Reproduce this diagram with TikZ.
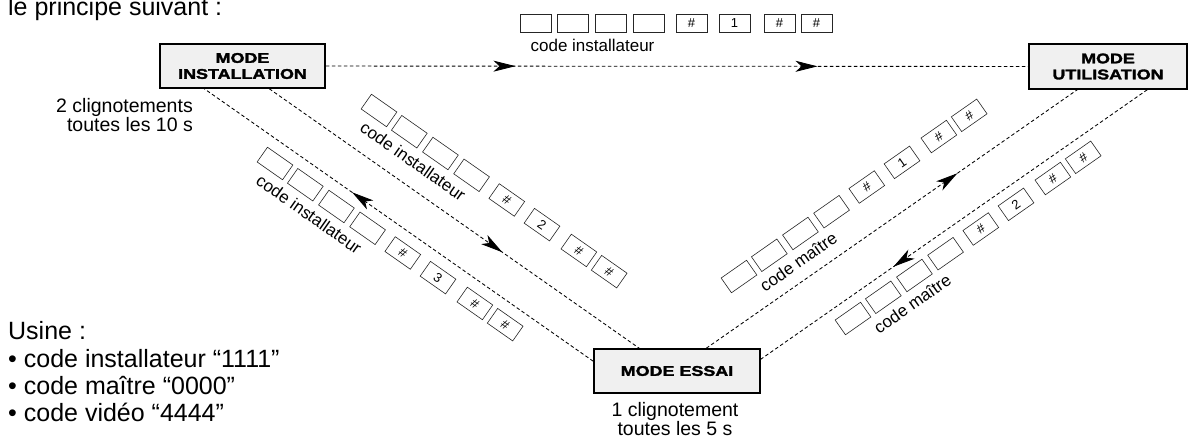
\documentclass[tikz,border=0pt]{standalone}
\usepackage{fontspec}
\setmainfont{Liberation Sans}
\newfontfamily\heavyfont{Liberation Sans}[FakeStretch=1.28, FakeBold=2.2]
\usetikzlibrary{arrows.meta,decorations.markings,calc}

\tikzset{
  modebox/.style={draw=black, line width=1.5pt, fill=gray!12, inner sep=0pt,
    align=center, font=\heavyfont\bfseries\fontsize{14}{16}\selectfont},
  flow/.style={line width=0.85pt, dash pattern=on 3.5pt off 2.5pt},
  arrowat/.style={postaction={decorate}, decoration={markings,
    mark=at position #1 with {\arrow{Stealth[length=22pt,width=11pt,inset=6pt]}}}},
  arrowtwo/.style 2 args={postaction={decorate}, decoration={markings,
    mark=at position #1 with {\arrow{Stealth[length=22pt,width=11pt,inset=6pt]}},
    mark=at position #2 with {\arrow{Stealth[length=22pt,width=11pt,inset=6pt]}}}},
  keybox/.style={draw=black!85, line width=0.6pt, minimum width=31pt, minimum height=18pt,
    inner sep=0pt, transform shape, font=\fontsize{13}{13}\selectfont},
  keylabel/.style={inner sep=0pt, transform shape, font=\fontsize{17}{17}\selectfont},
  plaintext/.style={inner sep=0pt},
}

\newcommand{\krow}[3]{%
  \foreach \p/\t [count=\i] in {0/,37/,75/,113/,156/\#,199/#2,244/\#,281/\#} {
    \node[keybox] (#1k\i) at (\p,0) {\t};
  }
  \node[keylabel] (#1lab) at (57,22) {#3};
}

\begin{document}
\begin{tikzpicture}[x=1pt,y=-1pt]
\useasboundingbox (0,0) rectangle (1189,439);

% title
\node[plaintext, anchor=base west, font=\fontsize{25}{28}\selectfont] (title) at (8,16) {le principe suivant :};

% mode boxes
\node[modebox, minimum width=165pt, minimum height=44pt] (inst) at (242.5,66) {MODE\\INSTALLATION};
\node[modebox, minimum width=158pt, minimum height=45pt] (util) at (1108,66.5) {MODE\\UTILISATION};
\node[modebox, minimum width=166pt, minimum height=44pt] (essai) at (677,371) {MODE ESSAI};

% notes
\node[plaintext, anchor=base east, font=\fontsize{19.5}{20}\selectfont] (in1) at (193,112) {2 clignotements};
\node[plaintext, anchor=base east, font=\fontsize{19.5}{20}\selectfont] (in2) at (193,131.5) {toutes les 10 s};
\node[plaintext, anchor=base, font=\fontsize{19.5}{20}\selectfont] (en1) at (675,416) {1 clignotement};
\node[plaintext, anchor=base, font=\fontsize{19.5}{20}\selectfont] (en2) at (675,435) {toutes les 5 s};

% factory list
\node[plaintext, anchor=base west, font=\fontsize{25}{28}\selectfont] (us0) at (8,339) {Usine :};
\node[plaintext, anchor=base west, font=\fontsize{25}{28}\selectfont] (us1) at (8,367) {• code installateur “1111”};
\node[plaintext, anchor=base west, font=\fontsize{25}{28}\selectfont] (us2) at (8,394) {• code maître “0000”};
\node[plaintext, anchor=base west, font=\fontsize{25}{28}\selectfont] (us3) at (8,421) {• code vidéo “4444”};

% connector end points on box borders
\coordinate (l1a) at ([xshift=110pt]inst.south west);
\coordinate (l1b) at ([xshift=46pt]essai.north west);
\coordinate (l2a) at ([xshift=45pt]inst.south west);
\coordinate (l2b) at ([yshift=-13pt]essai.north west);
\coordinate (l3a) at ([xshift=113pt]essai.north west);
\coordinate (l3b) at ([xshift=49pt]util.south west);
\coordinate (l4a) at ([xshift=119pt]util.south west);
\coordinate (l4b) at ([yshift=-11pt]essai.north east);

% connectors
\draw[flow, arrowtwo={0.27}{0.70}] (inst) -- (util);
\draw[flow, arrowat=0.63] (l1a) -- (l1b);
\draw[flow, arrowat=0.62] (l2b) -- (l2a);
\draw[flow, arrowat=0.677] (l3a) -- (l3b);
\draw[flow, arrowat=0.657] (l4a) -- (l4b);

% keypad rows
\begin{scope}[shift={(535.5,23)}]
  \krow{r0}{1}{code installateur}
\end{scope}
\begin{scope}[shift={(379,110.5)}, rotate=-35]
  \krow{r1}{2}{code installateur}
\end{scope}
\begin{scope}[shift={(275,163.5)}, rotate=-35]
  \krow{r2}{3}{code installateur}
\end{scope}
\begin{scope}[shift={(739,276.5)}, rotate=35]
  \krow{r3}{1}{code maître}
\end{scope}
\begin{scope}[shift={(853,318.5)}, rotate=35]
  \krow{r4}{2}{code maître}
\end{scope}

\end{tikzpicture}
\end{document}
